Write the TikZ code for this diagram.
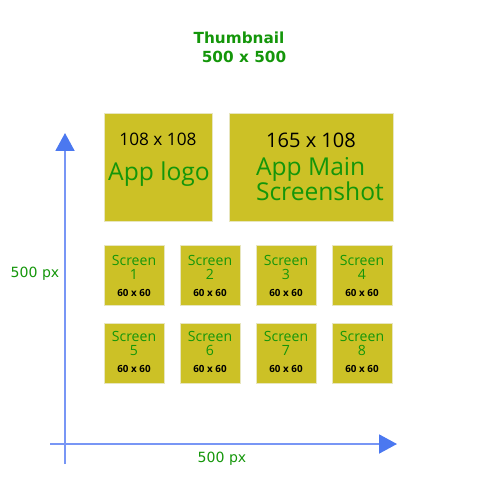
\documentclass[tikz,border=0pt]{standalone}
\usepackage{fontspec}
\setmainfont{Open Sans}
\newfontfamily\verd{DejaVu Sans}
\usepackage{tikz}
\usetikzlibrary{arrows.meta}

\definecolor{boxfill}{RGB}{204,193,38}
\definecolor{boxline}{RGB}{232,230,190}
\definecolor{labgreen}{RGB}{20,150,10}
\definecolor{axisline}{RGB}{120,150,245}
\definecolor{axishead}{RGB}{75,120,240}

\begin{document}
\begin{tikzpicture}[x=0.02cm,y=-0.02cm,
  every node/.style={inner sep=0pt,outer sep=0pt},
  tile/.style={fill=boxfill,draw=boxline,line width=0.4pt},
  axis/.style={draw=axisline,line width=1.1pt},
  tip/.style={-{Triangle[length=0.36cm,width=0.38cm,color=axishead]}},
  titletext/.style={font=\verd\bfseries\fontsize{8.7}{10}\selectfont,text=labgreen},
  pxlab/.style={font=\verd\fontsize{8}{10}\selectfont,text=labgreen},
  sizetext/.style={font=\fontsize{#1}{12}\selectfont,text=black},
  nametext/.style={font=\fontsize{#1}{14.2}\selectfont,text=labgreen}]
\useasboundingbox (0,0) rectangle (500,500);

% title
\node[titletext] (thumb) at (239,38) {Thumbnail};
\node[titletext] (thumbsize) at (244,57) {500 x 500};

% axes
\coordinate (yfoot) at (65,464);
\coordinate (ytip) at (65,133);
\coordinate (xfoot) at (50,444);
\coordinate (xtip) at (397,444);
\draw[axis,tip] (yfoot) -- (ytip);
\draw[axis,tip] (xfoot) -- (xtip);
\node[pxlab] (ylab) at (35,274) {500 px};
\node[pxlab] (xlab) at (222,459) {500 px};

% app logo and main screenshot
\node[tile,minimum width=2.16cm,minimum height=2.16cm] (logo) at (158,167) {};
\node[sizetext=9.8] (logosize) at (158,139) {108 x 108};
\node[nametext=14] (logoname) at (159,174) {App logo};
\node[tile,minimum width=3.28cm,minimum height=2.16cm] (main) at (311,167) {};
\node[sizetext=11.4] (mainsize) at (311,140) {165 x 108};
\node[nametext=14,anchor=west,align=left] (mainname) at (256,179) {App Main\\Screenshot};

% screens (\t = text shift per row)
\foreach \i/\x/\y/\t in {1/134/275/0,2/210/275/0,3/286/275/0,4/362/275/0,
                         5/134/353/-2,6/210/353/-2,7/286/353/-2,8/362/353/-2}{
  \node[tile,minimum width=1.2cm,minimum height=1.2cm] (scr\i) at (\x,\y) {};
  \node[nametext=8] (scrname\i) at (\x,\y-14.5+\t) {Screen};
  \node[nametext=8] (scrnum\i) at (\x,\y-0.5+\t) {\i};
  \node[font=\bfseries\fontsize{5.6}{8}\selectfont] (scrsize\i) at (\x,\y+18+\t) {60 x 60};
}
\end{tikzpicture}
\end{document}
